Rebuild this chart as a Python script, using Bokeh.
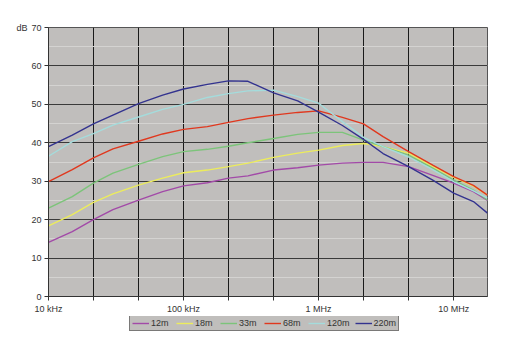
import numpy as np
from bokeh.plotting import figure
from bokeh.layouts import column
from bokeh.models import (Range1d, FixedTicker, CustomJSTickFormatter, Legend,
                          LegendItem, LinearAxis, SingleIntervalTicker)
from bokeh.embed import file_html
from bokeh.resources import INLINE

# frequency in kHz
freq_khz = [10, 15, 21.5, 30, 46.4, 70, 100, 150, 215, 300, 464, 700,
            1000, 1500, 2150, 3000, 4640, 7000, 10000, 14000, 17800]

s12m = [14.1, 16.9, 20.0, 22.6, 25.1, 27.3, 28.8, 29.6, 30.8, 31.4, 32.9, 33.5,
        34.2, 34.7, 34.9, 34.9, 33.8, 31.5, 29.5, 27.3, 25.0]
s18m = [18.4, 21.3, 24.5, 26.7, 29.0, 30.8, 32.2, 32.9, 33.8, 34.7, 36.2, 37.3,
        38.1, 39.3, 39.8, 39.0, 37.3, 33.8, 31.0, 28.7, 26.4]
s33m = [23.0, 26.0, 29.5, 32.1, 34.4, 36.4, 37.7, 38.3, 39.1, 40.0, 41.1, 42.2,
        42.7, 42.7, 40.7, 39.0, 36.8, 33.4, 30.3, 27.7, 25.1]
s68m = [29.9, 33.0, 36.1, 38.4, 40.4, 42.3, 43.5, 44.2, 45.3, 46.3, 47.2, 47.9,
        48.3, 46.6, 44.9, 41.6, 37.7, 34.2, 31.2, 28.9, 26.4]
s120m = [36.5, 40.3, 42.4, 44.6, 46.7, 48.7, 50.0, 51.8, 52.8, 53.5, 53.7, 52.0,
         50.3, 45.5, 41.4, 39.0, 36.3, 33.0, 29.9, 27.5, 25.6]
s220m = [39.0, 42.0, 44.9, 47.2, 50.2, 52.4, 54.0, 55.2, 56.1, 56.0, 53.0, 50.9,
         48.0, 44.5, 40.9, 37.2, 33.8, 30.3, 26.9, 24.7, 21.7]

series_names = ["12m", "18m", "33m", "68m", "120m", "220m"]
series_vals = [s12m, s18m, s33m, s68m, s120m, s220m]
series_colors = ["#a24aa8", "#ecec5c", "#7cc47a", "#e0381e", "#a4dcdc", "#33338f"]

unit_label = "dB"
x_ticks = [10 * 10 ** (k / 3) for k in range(10)]
FONT = "Liberation Sans"

p = figure(width=512, height=316, x_axis_type="log",
           x_range=Range1d(10, 17800), y_range=Range1d(0, 70),
           output_backend="svg", toolbar_location=None,
           min_border_left=48, min_border_right=25, min_border_top=27,
           min_border_bottom=19)
p.border_fill_color = "white"
p.background_fill_color = "#c0bebc"
p.outline_line_color = "#555555"

p.xaxis.ticker = FixedTicker(ticks=x_ticks)
p.xaxis.formatter = CustomJSTickFormatter(code="""
const l = Math.log10(tick);
if (Math.abs(l - Math.round(l)) > 1e-6) { return ""; }
const r = Math.round(l);
return r == 1 ? "10 kHz" : r == 2 ? "100 kHz" : r == 3 ? "1 MHz" : r == 4 ? "10 MHz" : "";
""")
p.xaxis.minor_tick_line_color = None
p.xaxis.major_tick_out = 4
p.xaxis.major_tick_in = 0
p.xaxis.major_label_standoff = 3
p.xgrid.ticker = FixedTicker(ticks=x_ticks)
p.xgrid.grid_line_color = "#1a1a1a"
p.xgrid.grid_line_width = 1

p.yaxis.ticker = SingleIntervalTicker(interval=10, num_minor_ticks=2)
p.yaxis.minor_tick_line_color = None
p.yaxis.major_tick_out = 4
p.yaxis.major_tick_in = 0
p.yaxis.major_label_standoff = 3
p.ygrid.grid_line_color = "#3a3a3a"
p.ygrid.minor_grid_line_color = "#d4d3d1"

for ax in (p.xaxis, p.yaxis):
    ax.axis_line_color = "#333333"
    ax.major_tick_line_color = "#333333"
    ax.major_label_text_font = FONT
    ax.major_label_text_font_size = "9px"
    ax.major_label_text_color = "#333333"

# unit label "dB" drawn as a second, bare left axis with one tick at 70
unit_axis = LinearAxis(ticker=FixedTicker(ticks=[70]),
                       major_label_overrides={70: unit_label},
                       axis_line_color=None, major_tick_line_color=None,
                       minor_tick_line_color=None, major_tick_out=0,
                       major_tick_in=0, major_label_standoff=1,
                       major_label_text_font=FONT,
                       major_label_text_font_size="9px",
                       major_label_text_color="#333333")
p.add_layout(unit_axis, "left")

for name, vals, col in zip(series_names, series_vals, series_colors):
    p.line(freq_khz, vals, line_color=col, line_width=1.4)

# legend strip below the chart
q = figure(width=512, height=16, x_range=Range1d(10, 17800),
           y_range=Range1d(0, 70), x_axis_type="log",
           output_backend="svg", toolbar_location=None,
           x_axis_location=None, y_axis_location=None,
           min_border=0, min_border_left=0, min_border_right=0,
           min_border_top=0, min_border_bottom=0)
q.outline_line_color = None
q.background_fill_color = "white"
q.border_fill_color = "white"
q.grid.visible = False

items = []
for name, vals, col in zip(series_names, series_vals, series_colors):
    r = q.line(freq_khz, vals, line_color=col, line_width=1.4, visible=False)
    items.append(LegendItem(label=name, renderers=[r]))

legend = Legend(items=items, orientation="horizontal", location=(81, 1),
                background_fill_color="#c0bebc", background_fill_alpha=1,
                border_line_color="#333333", border_line_width=1,
                inactive_fill_alpha=0,
                label_text_font=FONT, label_text_font_size="9px",
                label_text_color="#333333",
                glyph_width=17, glyph_height=10, label_height=10,
                label_width=20, label_standoff=2, spacing=5,
                padding=2, margin=0, click_policy="none")
q.add_layout(legend, "center")

open("out.html", "w").write(file_html(column(p, q), INLINE))
